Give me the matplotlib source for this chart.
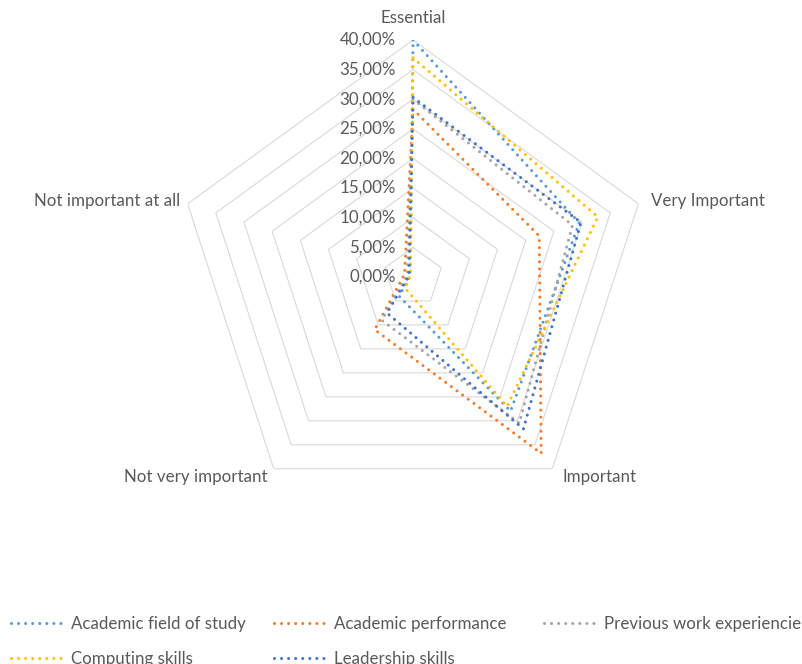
import numpy as np
import matplotlib
matplotlib.use("Agg")
import matplotlib.pyplot as plt
from matplotlib.lines import Line2D
from matplotlib.transforms import offset_copy

plt.rcParams["font.family"] = ["Lato", "DejaVu Sans"]

categories = ["Essential", "Very Important", "Important",
              "Not very important", "Not important at all"]

field_of_study = [40.0, 29.5, 28.0, 4.0, 0.5]
performance = [28.3, 22.4, 36.8, 11.0, 1.5]
work_experience = [30.0, 28.3, 30.5, 9.0, 1.0]
computing = [37.0, 32.8, 27.0, 2.3, 0.5]
leadership = [30.3, 29.8, 31.7, 7.5, 0.7]

series_names = ["Academic field of study", "Academic performance",
                "Previous work experiencie", "Computing skills",
                "Leadership skills"]
series_values = [field_of_study, performance, work_experience,
                 computing, leadership]
series_colors = ["#5B9BD5", "#ED7D31", "#A5A5A5", "#FFC000", "#4472C4"]

ticks = np.arange(0, 45, 5)
tick_labels = [f"{t:.2f}%".replace(".", ",") for t in ticks]

text_color = "#595959"
grid_color = "#D9D9D9"
fs = 12.2
dotted = (0, (0.01, 2.3))

fig = plt.figure(figsize=(8.03, 6.64), dpi=100)
ax = fig.add_axes([0.2192, 0.2259, 0.5903, 0.7139], projection="polar")
ax.set_theta_offset(np.pi / 2)
ax.set_theta_direction(-1)
ax.set_ylim(0, 40)
ax.axis("off")

angles = np.arange(len(categories)) * 2 * np.pi / len(categories)
closed = np.r_[angles, angles[0]]

# pentagon gridlines
for t in ticks[1:]:
    ax.plot(closed, [t] * len(closed), color=grid_color, lw=0.8, zorder=1)

# radial value labels along the first spoke
for t, lab in zip(ticks, tick_labels):
    tr = offset_copy(ax.transData, fig=fig, x=-17, y=0, units="dots")
    ax.text(0, t, lab, transform=tr, ha="right", va="center",
            fontsize=fs, color=text_color)

# category labels around the outer ring
cat_offsets = [(0, 14, "center", "bottom"),
               (13, 3, "left", "center"),
               (10, -8, "left", "center"),
               (-6, -8, "right", "center"),
               (-7, 3, "right", "center")]
for ang, cat, (dx, dy, ha, va) in zip(angles, categories, cat_offsets):
    tr = offset_copy(ax.transData, fig=fig, x=dx, y=dy, units="dots")
    ax.text(ang, 40, cat, transform=tr, ha=ha, va=va,
            fontsize=fs, color=text_color)

handles = []
for name, vals, col in zip(series_names, series_values, series_colors):
    ax.plot(closed, list(vals) + [vals[0]], color=col, lw=2.2,
            linestyle=dotted, dash_capstyle="round", zorder=3, label=name)
    handles.append(Line2D([], [], color=col, lw=2.2, linestyle=dotted,
                          dash_capstyle="round"))

# legend laid out in three fixed columns, filled row by row
col_x = [11, 274, 544]
for c, x in enumerate(col_x):
    idx = [i for i in range(len(series_names)) if i % 3 == c]
    fig.legend([handles[i] for i in idx], [series_names[i] for i in idx],
               loc="upper left", bbox_to_anchor=(x / 803, 1 - 616 / 664),
               frameon=False, fontsize=fs, handlelength=2.95,
               handletextpad=0.6, labelspacing=1.1, borderpad=0,
               borderaxespad=0, labelcolor=text_color)

fig.savefig("out.png", dpi=100)
